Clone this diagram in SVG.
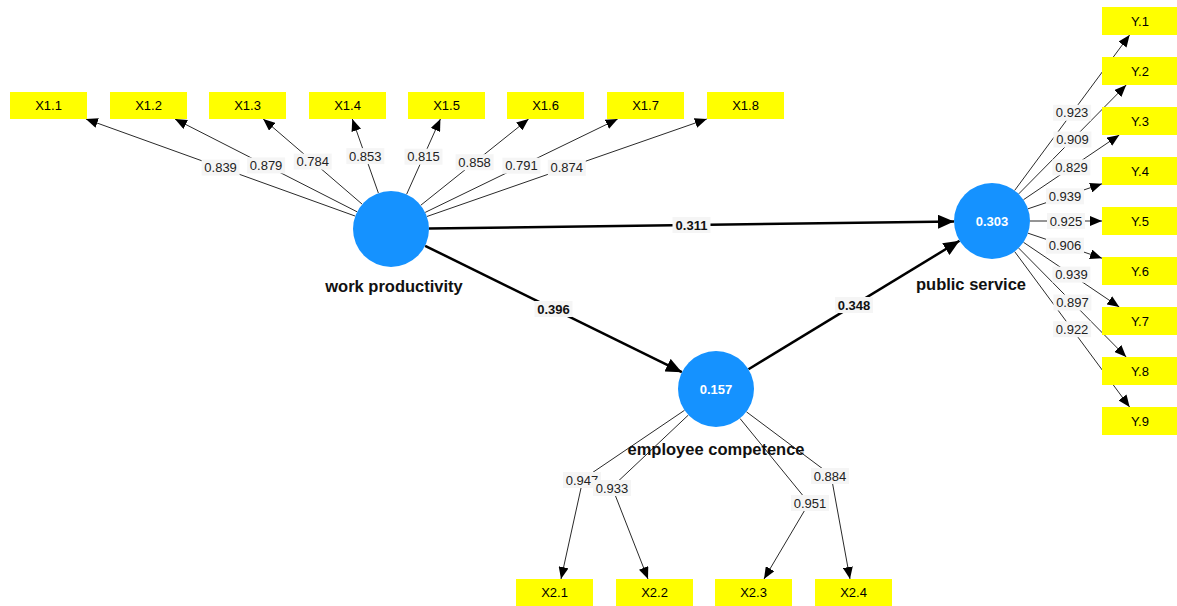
<svg xmlns="http://www.w3.org/2000/svg" width="1177" height="606" viewBox="0 0 1177 606">
  <style>
    .ind { fill: #ffff00; }
    .ind-t { font-family: "Liberation Sans", Arial, sans-serif; font-size: 13px; fill: #000; text-anchor: middle; }
    .lv { fill: #1592ff; }
    .lv-v { font-family: "Liberation Sans", Arial, sans-serif; font-size: 13px; font-weight: bold; fill: #ffffff; text-anchor: middle; }
    .lv-n { font-family: "Liberation Sans", Arial, sans-serif; font-size: 16.5px; font-weight: bold; fill: #111; text-anchor: middle; }
    .ld { stroke: #2a2a2a; stroke-width: 1; fill: none; marker-end: url(#ah); }
    .pc { stroke: #000; stroke-width: 2.5; fill: none; marker-end: url(#ahb); }
    .lb rect { fill: #f5f5f5; }
    .lb text { font-family: "Liberation Sans", Arial, sans-serif; font-size: 13px; fill: #222; text-anchor: middle; }
    .pb text { font-weight: bold; fill: #111; }
  </style>
  <defs>
    <marker id="ah" markerUnits="userSpaceOnUse" viewBox="0 0 12 10" refX="12" refY="5" markerWidth="12" markerHeight="10" orient="auto">
      <path d="M0,0 L12,5 L0,10 z" fill="#000"/>
    </marker>
    <marker id="ahb" markerUnits="userSpaceOnUse" viewBox="0 0 16 14" refX="16" refY="7" markerWidth="16" markerHeight="14" orient="auto">
      <path d="M0,0 L16,7 L0,14 z" fill="#000"/>
    </marker>
  </defs>

  <rect width="1177" height="606" fill="#ffffff"/>

  <g id="connectors">
    <g id="paths">
      <!-- work productivity loadings -->
      <line class="ld" x1="355.3" y1="216.1" x2="85.9" y2="119"/>
      <line class="ld" x1="357.1" y1="211.8" x2="175.0" y2="119"/>
      <line class="ld" x1="362.2" y1="204.2" x2="263.2" y2="119"/>
      <line class="ld" x1="378.4" y1="193.1" x2="352.3" y2="119"/>
      <line class="ld" x1="406.6" y1="194.3" x2="440.4" y2="119"/>
      <line class="ld" x1="420.7" y1="205.3" x2="528.6" y2="119"/>
      <line class="ld" x1="425.2" y1="212.4" x2="617.7" y2="119"/>
      <line class="ld" x1="426.9" y1="216.5" x2="706.8" y2="119"/>
      <!-- public service loadings -->
      <line class="ld" x1="1014.6" y1="190.5" x2="1129.6" y2="35"/>
      <line class="ld" x1="1018.7" y1="193.9" x2="1126.2" y2="85"/>
      <line class="ld" x1="1023.5" y1="199.7" x2="1119.3" y2="135"/>
      <line class="ld" x1="1028.0" y1="208.8" x2="1102" y2="183.8"/>
      <line class="ld" x1="1030" y1="221" x2="1102" y2="221"/>
      <line class="ld" x1="1028.0" y1="233.2" x2="1102" y2="258.2"/>
      <line class="ld" x1="1023.5" y1="242.3" x2="1119.3" y2="307"/>
      <line class="ld" x1="1018.7" y1="248.1" x2="1126.2" y2="357"/>
      <line class="ld" x1="1014.6" y1="251.5" x2="1129.6" y2="407"/>
      <!-- employee competence loadings (bent) -->
      <polyline class="ld" points="684.5,410.3 583,479 561,579"/>
      <polyline class="ld" points="688.3,415.1 612,487 648,579"/>
      <polyline class="ld" points="740,418.5 809,503 764,579"/>
      <polyline class="ld" points="746.4,411.8 831,475 850,579"/>
      <!-- structural paths -->
      <line class="pc" x1="429" y1="228.5" x2="954" y2="221.5"/>
      <line class="pc" x1="425.1" y1="245.8" x2="681.9" y2="372.2"/>
      <line class="pc" x1="748.5" y1="369.2" x2="959.5" y2="240.8"/>
    </g>
    <g id="path-labels">
      <g class="lb">
        <rect x="201.6" y="159.6" width="38" height="16"/><text x="220.6" y="172.2">0.839</text>
        <rect x="247.1" y="157.4" width="38" height="16"/><text x="266.1" y="170">0.879</text>
        <rect x="293.7" y="153.6" width="38" height="16"/><text x="312.7" y="166.2">0.784</text>
        <rect x="346.3" y="148.1" width="38" height="16"/><text x="365.3" y="160.7">0.853</text>
        <rect x="404.5" y="148.7" width="38" height="16"/><text x="423.5" y="161.3">0.815</text>
        <rect x="455.6" y="154.2" width="38" height="16"/><text x="474.6" y="166.8">0.858</text>
        <rect x="502.4" y="157.7" width="38" height="16"/><text x="521.4" y="170.3">0.791</text>
        <rect x="547.8" y="159.8" width="38" height="16"/><text x="566.8" y="172.4">0.874</text>

        <rect x="1053.1" y="104.8" width="38" height="16"/><text x="1072.1" y="117.4">0.923</text>
        <rect x="1053.4" y="131.5" width="38" height="16"/><text x="1072.4" y="144.1">0.909</text>
        <rect x="1052.4" y="159.4" width="38" height="16"/><text x="1071.4" y="172">0.829</text>
        <rect x="1046" y="188.3" width="38" height="16"/><text x="1065" y="200.9">0.939</text>
        <rect x="1047" y="213" width="38" height="16"/><text x="1066" y="225.6">0.925</text>
        <rect x="1046" y="237.7" width="38" height="16"/><text x="1065" y="250.3">0.906</text>
        <rect x="1052.4" y="266.6" width="38" height="16"/><text x="1071.4" y="279.2">0.939</text>
        <rect x="1053.4" y="294.5" width="38" height="16"/><text x="1072.4" y="307.1">0.897</text>
        <rect x="1053.1" y="321.2" width="38" height="16"/><text x="1072.1" y="333.8">0.922</text>

        <rect x="563" y="472" width="38" height="16"/><text x="582" y="484.6">0.947</text>
        <rect x="593" y="480" width="38" height="16"/><text x="612" y="492.6">0.933</text>
        <rect x="791" y="495" width="38" height="16"/><text x="810" y="507.6">0.951</text>
        <rect x="811" y="468" width="38" height="16"/><text x="830" y="480.6">0.884</text>
      </g>
      <g class="lb pb">
        <rect x="672.5" y="217" width="38" height="16"/><text x="691.5" y="229.6">0.311</text>
        <rect x="534.5" y="301" width="38" height="16"/><text x="553.5" y="313.6">0.396</text>
        <rect x="835" y="297" width="38" height="16"/><text x="854" y="309.6">0.348</text>
      </g>
    </g>
  </g>

  <!-- latent variables -->
  <g id="work-productivity">
    <circle class="lv" cx="391" cy="229" r="38"/>
    <text class="lv-n" x="394" y="292">work productivity</text>
  </g>
  <g id="public-service">
    <circle class="lv" cx="992" cy="221" r="38"/>
    <text class="lv-v" x="992" y="225.5">0.303</text>
    <text class="lv-n" x="971" y="290">public service</text>
  </g>
  <g id="employee-competence">
    <circle class="lv" cx="716" cy="389" r="38"/>
    <text class="lv-v" x="716" y="393.5">0.157</text>
    <text class="lv-n" x="716" y="455">employee competence</text>
  </g>

  <!-- indicators of work productivity -->
  <g id="X1.1"><rect class="ind" x="10" y="92" width="77" height="27"/><text class="ind-t" x="48.5" y="110">X1.1</text></g>
  <g id="X1.2"><rect class="ind" x="110" y="92" width="77" height="27"/><text class="ind-t" x="148.5" y="110">X1.2</text></g>
  <g id="X1.3"><rect class="ind" x="209" y="92" width="77" height="27"/><text class="ind-t" x="247.5" y="110">X1.3</text></g>
  <g id="X1.4"><rect class="ind" x="309" y="92" width="77" height="27"/><text class="ind-t" x="347.5" y="110">X1.4</text></g>
  <g id="X1.5"><rect class="ind" x="408" y="92" width="77" height="27"/><text class="ind-t" x="446.5" y="110">X1.5</text></g>
  <g id="X1.6"><rect class="ind" x="507" y="92" width="77" height="27"/><text class="ind-t" x="545.5" y="110">X1.6</text></g>
  <g id="X1.7"><rect class="ind" x="607" y="92" width="77" height="27"/><text class="ind-t" x="645.5" y="110">X1.7</text></g>
  <g id="X1.8"><rect class="ind" x="707" y="92" width="77" height="27"/><text class="ind-t" x="745.5" y="110">X1.8</text></g>

  <!-- indicators of public service -->
  <g id="Y.1"><rect class="ind" x="1102" y="7" width="76" height="28"/><text class="ind-t" x="1140" y="25.5">Y.1</text></g>
  <g id="Y.2"><rect class="ind" x="1102" y="57" width="76" height="28"/><text class="ind-t" x="1140" y="75.5">Y.2</text></g>
  <g id="Y.3"><rect class="ind" x="1102" y="107" width="76" height="28"/><text class="ind-t" x="1140" y="125.5">Y.3</text></g>
  <g id="Y.4"><rect class="ind" x="1102" y="157" width="76" height="28"/><text class="ind-t" x="1140" y="175.5">Y.4</text></g>
  <g id="Y.5"><rect class="ind" x="1102" y="207" width="76" height="28"/><text class="ind-t" x="1140" y="225.5">Y.5</text></g>
  <g id="Y.6"><rect class="ind" x="1102" y="257" width="76" height="28"/><text class="ind-t" x="1140" y="275.5">Y.6</text></g>
  <g id="Y.7"><rect class="ind" x="1102" y="307" width="76" height="28"/><text class="ind-t" x="1140" y="325.5">Y.7</text></g>
  <g id="Y.8"><rect class="ind" x="1102" y="357" width="76" height="28"/><text class="ind-t" x="1140" y="375.5">Y.8</text></g>
  <g id="Y.9"><rect class="ind" x="1102" y="407" width="76" height="28"/><text class="ind-t" x="1140" y="425.5">Y.9</text></g>

  <!-- indicators of employee competence -->
  <g id="X2.1"><rect class="ind" x="516" y="579" width="77" height="27"/><text class="ind-t" x="554.5" y="597">X2.1</text></g>
  <g id="X2.2"><rect class="ind" x="616" y="579" width="77" height="27"/><text class="ind-t" x="654.5" y="597">X2.2</text></g>
  <g id="X2.3"><rect class="ind" x="715" y="579" width="77" height="27"/><text class="ind-t" x="753.5" y="597">X2.3</text></g>
  <g id="X2.4"><rect class="ind" x="815" y="579" width="77" height="27"/><text class="ind-t" x="853.5" y="597">X2.4</text></g>
</svg>
